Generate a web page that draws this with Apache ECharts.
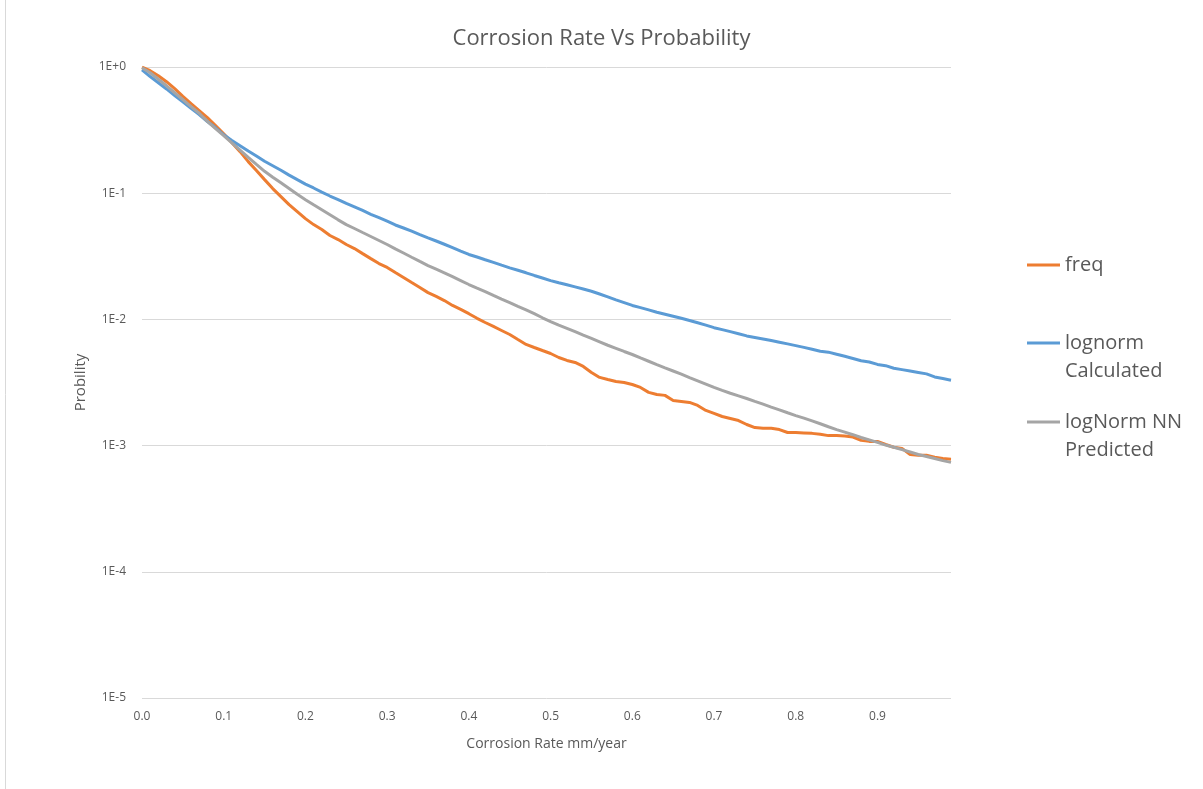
<!DOCTYPE html>
<html>
<head>
<meta charset="utf-8">
<script src="https://cdn.jsdelivr.net/npm/echarts@6/dist/echarts.min.js"></script>
<style>
html,body{margin:0;padding:0;background:#fff;}
#chart{width:1203px;height:789px;}
</style>
</head>
<body>
<div id="chart"></div>
<script>
// Corrosion rate categories (mm/year)
const rates = [
  "0.00","0.01","0.02","0.03","0.04","0.05","0.06","0.07","0.08","0.09",
  "0.10","0.11","0.12","0.13","0.14","0.15","0.16","0.17","0.18","0.19",
  "0.20","0.21","0.22","0.23","0.24","0.25","0.26","0.27","0.28","0.29",
  "0.30","0.31","0.32","0.33","0.34","0.35","0.36","0.37","0.38","0.39",
  "0.40","0.41","0.42","0.43","0.44","0.45","0.46","0.47","0.48","0.49",
  "0.50","0.51","0.52","0.53","0.54","0.55","0.56","0.57","0.58","0.59",
  "0.60","0.61","0.62","0.63","0.64","0.65","0.66","0.67","0.68","0.69",
  "0.70","0.71","0.72","0.73","0.74","0.75","0.76","0.77","0.78","0.79",
  "0.80","0.81","0.82","0.83","0.84","0.85","0.86","0.87","0.88","0.89",
  "0.90","0.91","0.92","0.93","0.94","0.95","0.96","0.97","0.98","0.99"
];

const freq = [
  0.996,0.935,0.853,0.765,0.673,0.585,0.512,0.451,0.397,0.343,
  0.296,0.2516,0.2135,0.1779,0.151,0.1281,0.1088,0.094,0.0812,0.0715,
  0.0629,0.0564,0.0515,0.0462,0.0429,0.0392,0.0364,0.0332,0.0303,0.0277,
  0.0258,0.0235,0.0215,0.0196,0.0179,0.0163,0.0152,0.0141,0.0129,0.012,
  0.0111,0.0102,0.00945,0.00879,0.00817,0.00759,0.00693,0.00633,0.00599,0.00567,
  0.00537,0.00499,0.00473,0.00456,0.00424,0.0038,0.00347,0.00334,0.00322,0.00316,
  0.00305,0.00289,0.00264,0.00254,0.0025,0.00228,0.00224,0.0022,0.00208,0.0019,
  0.0018,0.0017,0.00164,0.00158,0.00147,0.00139,0.00137,0.00137,0.00134,0.00127,
  0.00127,0.00126,0.00125,0.00123,0.0012,0.0012,0.00119,0.00117,0.0011,0.00108,
  0.00108,0.00102,0.00097,0.00095,0.00085,0.00084,0.00084,0.00081,0.00079,0.00078
];

const lognormCalculated = [
  0.95,0.84,0.75,0.67,0.595,0.53,0.47,0.42,0.37,0.33,
  0.29,0.262,0.238,0.216,0.197,0.179,0.165,0.152,0.139,0.128,
  0.118,0.11,0.102,0.095,0.089,0.083,0.078,0.073,0.068,0.064,
  0.06,0.056,0.053,0.05,0.047,0.0443,0.0418,0.0394,0.0371,0.0348,
  0.0327,0.0312,0.0297,0.0283,0.0269,0.0256,0.0245,0.0234,0.0223,0.0213,
  0.0203,0.0195,0.0188,0.0181,0.0174,0.0167,0.0159,0.0151,0.0143,0.0136,
  0.0129,0.0124,0.0119,0.0114,0.011,0.0106,0.0102,0.0098,0.0094,0.009,
  0.0086,0.0083,0.008,0.0077,0.0074,0.0072,0.007,0.0068,0.0066,0.0064,
  0.0062,0.006,0.0058,0.0056,0.0055,0.0053,0.0051,0.0049,0.0047,0.0046,
  0.0044,0.0043,0.0041,0.004,0.0039,0.0038,0.0037,0.0035,0.0034,0.0033
];

const lognormNNPredicted = [
  0.987,0.9,0.8,0.71,0.625,0.551,0.485,0.43,0.37,0.325,
  0.286,0.25,0.219,0.192,0.169,0.149,0.134,0.121,0.109,0.098,
  0.0889,0.081,0.074,0.0675,0.0615,0.0564,0.0525,0.0488,0.0454,0.0422,
  0.0392,0.0362,0.0336,0.0311,0.0288,0.0267,0.025,0.0234,0.0218,0.0203,
  0.0189,0.0177,0.0166,0.0155,0.0145,0.0136,0.0127,0.0119,0.0111,0.0103,
  0.0096,0.009,0.0085,0.008,0.0075,0.00706,0.00664,0.00624,0.0059,0.00557,
  0.00527,0.00495,0.00466,0.00438,0.00413,0.0039,0.00368,0.00346,0.00326,0.00307,
  0.00289,0.00274,0.0026,0.00248,0.00236,0.00224,0.00213,0.00202,0.00192,0.00182,
  0.00173,0.00165,0.00157,0.00149,0.00141,0.00134,0.00128,0.00122,0.00116,0.00111,
  0.00106,0.00101,0.00097,0.00093,0.00089,0.00085,0.00082,0.00079,0.00076,0.000736
];

const seriesNames = ["freq", "lognorm Calculated", "logNorm NN Predicted"];
const legendLabels = ["freq", " \nlognorm\nCalculated", " \nlogNorm NN\nPredicted"];
const colors = ["#ED7D31", "#5B9BD5", "#A5A5A5"];

const chart = echarts.init(document.getElementById('chart'), null, {renderer: 'canvas'});
const FONT = 'Open Sans';
const txt = '#595959';

function legendFor(i, top) {
  return {
    show: true,
    orient: 'vertical',
    left: 1022,
    top: top,
    itemWidth: 33,
    itemHeight: 3,
    icon: 'rect',
    data: [{ name: seriesNames[i], icon: 'rect' }],
    formatter: function () { return legendLabels[i]; },
    textStyle: { fontFamily: FONT, fontSize: 20, color: txt, lineHeight: 28 }
  };
}

chart.setOption({
  animation: false,
  backgroundColor: '#ffffff',
  color: colors,
  title: {
    text: 'Corrosion Rate Vs Probability',
    left: 'center',
    top: 23,
    textStyle: { fontFamily: FONT, fontSize: 22, fontWeight: 'normal', color: txt }
  },
  legend: [legendFor(0, 246), legendFor(1, 296), legendFor(2, 375)],
  grid: { left: 142, right: 252, top: 67, bottom: 91 },
  xAxis: {
    type: 'category',
    data: rates,
    boundaryGap: false,
    name: 'Corrosion Rate mm/year',
    nameLocation: 'middle',
    nameGap: 39,
    nameTextStyle: { fontFamily: FONT, fontSize: 14, color: txt },
    axisLine: { show: false },
    axisTick: { show: false },
    splitLine: { show: false },
    axisLabel: {
      interval: 9,
      margin: 13,
      fontFamily: FONT, fontSize: 12, color: txt,
      formatter: function (v) { return Number(v).toFixed(1); }
    }
  },
  yAxis: {
    type: 'log',
    logBase: 10,
    min: 0.00001,
    max: 1,
    name: 'Probility',
    nameLocation: 'middle',
    nameGap: 48,
    nameTextStyle: { fontFamily: FONT, fontSize: 15, color: txt },
    axisLine: { show: false },
    axisTick: { show: false },
    splitLine: { show: true, lineStyle: { color: '#D9D9D9', width: 1 } },
    axisLabel: {
      margin: 16,
      fontFamily: FONT, fontSize: 12, color: txt,
      formatter: function (v) {
        const e = Math.round(Math.log10(v));
        return '1E' + (e >= 0 ? '+' + e : String(e));
      }
    }
  },
  graphic: [{
    type: 'line',
    shape: { x1: 5.5, y1: 0, x2: 5.5, y2: 789 },
    style: { stroke: '#D9D9D9', lineWidth: 1 },
    silent: true
  }],
  series: [
    { name: seriesNames[0], type: 'line', data: freq, symbol: 'none', lineStyle: { width: 3, color: colors[0] }, itemStyle: { color: colors[0] } },
    { name: seriesNames[1], type: 'line', data: lognormCalculated, symbol: 'none', lineStyle: { width: 3, color: colors[1] }, itemStyle: { color: colors[1] } },
    { name: seriesNames[2], type: 'line', data: lognormNNPredicted, symbol: 'none', lineStyle: { width: 3, color: colors[2] }, itemStyle: { color: colors[2] } }
  ]
});
</script>
</body>
</html>
